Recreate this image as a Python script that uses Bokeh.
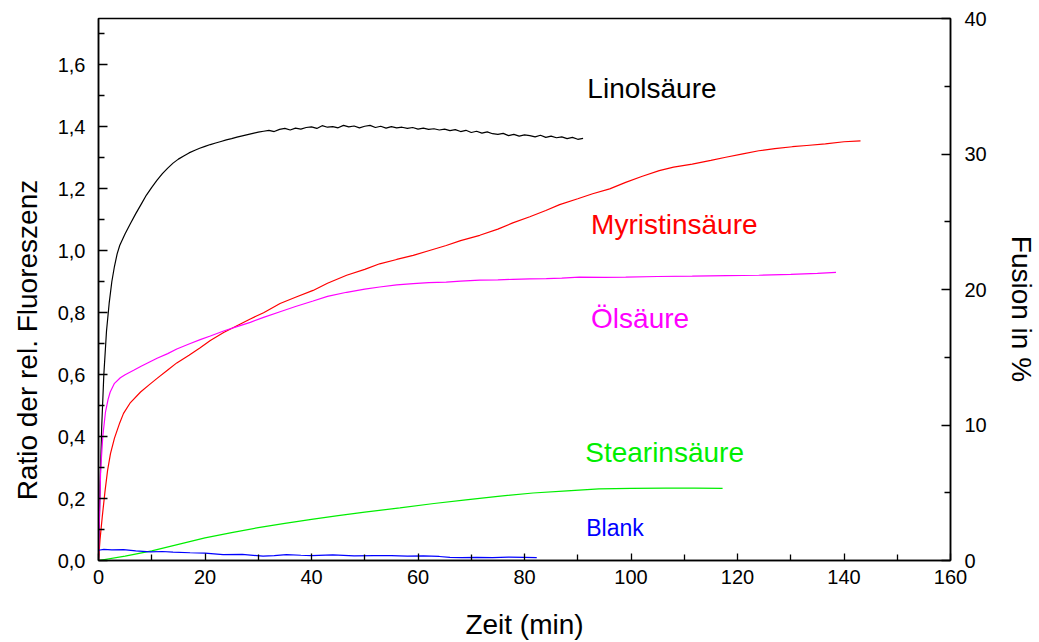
from bokeh.plotting import figure
from bokeh.models import (ColumnDataSource, LinearAxis, Range1d, FixedTicker,
                          CustomJSTickFormatter)
from bokeh.core.properties import value
from bokeh.embed import file_html
from bokeh.resources import INLINE

# ---------------- data ----------------
lin_x = [0, 0.3, 0.6, 1.0, 1.5, 2.0, 2.5, 3.0, 3.5, 4, 5, 6, 7, 8, 9, 10, 11, 12, 13, 14,
         15, 16, 17, 18, 19, 20, 21, 22, 23, 24, 25, 26, 27, 28, 29, 30, 31, 32, 33, 34,
         35, 36, 37, 38, 39, 40, 41, 42, 43, 44, 45, 46, 47, 48, 49, 50, 51, 52, 53, 54,
         55, 56, 57, 58, 59, 60, 61, 62, 63, 64, 65, 66, 67, 68, 69, 70, 71, 72, 73, 74,
         75, 76, 77, 78, 79, 80, 81, 82, 83, 84, 85, 86, 87, 88, 89, 90, 91]
lin_y = [0, 0.24, 0.43, 0.60, 0.74, 0.83, 0.90, 0.95, 0.99, 1.018, 1.055, 1.088, 1.12, 1.15, 1.18, 1.205, 1.228, 1.249, 1.267, 1.283,
         1.296, 1.306, 1.316, 1.324, 1.331, 1.337, 1.343, 1.348, 1.353, 1.358, 1.362, 1.367, 1.371, 1.375, 1.379, 1.383, 1.386, 1.389, 1.385, 1.392,
         1.395, 1.390, 1.396, 1.393, 1.398, 1.40, 1.395, 1.404, 1.399, 1.401, 1.397, 1.405, 1.400, 1.403, 1.397, 1.402, 1.405, 1.398, 1.402, 1.396,
         1.401, 1.397, 1.399, 1.395, 1.398, 1.393, 1.396, 1.392, 1.394, 1.390, 1.393, 1.388, 1.391, 1.385, 1.389, 1.382, 1.386, 1.380, 1.384, 1.378,
         1.376, 1.379, 1.372, 1.376, 1.370, 1.374, 1.372, 1.368, 1.373, 1.366, 1.370, 1.365, 1.368, 1.362, 1.366, 1.360, 1.363]

myr_x = [0, 0.3, 0.7, 1.2, 1.7, 2.25, 3, 4, 4.7, 6, 7.9, 9.5, 11, 13, 14.7, 17, 19.1, 21, 23.5, 26,
         28.5, 31, 34.1, 37, 40.3, 43, 46.6, 50, 52.8, 56, 59.1, 62, 65.3, 68, 71.6, 75, 77.8, 81, 84, 86.6,
         90, 92.8, 96, 99, 102, 105.3, 108, 111.5, 115, 117.8, 121, 124, 127, 130.3, 133, 136.5, 140, 143.1]
myr_y = [0, 0.07, 0.14, 0.22, 0.29, 0.345, 0.395, 0.445, 0.475, 0.51, 0.544, 0.567, 0.588, 0.615, 0.638, 0.663, 0.687, 0.71, 0.736, 0.758,
         0.78, 0.80, 0.83, 0.85, 0.872, 0.895, 0.921, 0.94, 0.958, 0.972, 0.985, 1.00, 1.017, 1.033, 1.05, 1.07, 1.09, 1.11, 1.13, 1.149,
         1.168, 1.184, 1.20, 1.221, 1.24, 1.259, 1.27, 1.28, 1.292, 1.302, 1.313, 1.323, 1.33, 1.336, 1.34, 1.345, 1.352, 1.355]

ole_x = [0, 0.2, 0.4, 0.8, 1.3, 1.8, 2.2, 3, 4.1, 5, 6.6, 8, 9.5, 11, 13, 14.7, 17, 19.1, 21, 23.5,
         26, 28.5, 31, 34.1, 37, 40.3, 43, 46.6, 50, 52.8, 56, 59.1, 62, 65.3, 68, 71.6, 75, 77.8, 81, 84.1,
         87, 90.3, 95, 99, 105, 111.5, 118, 124, 130, 135, 138.5]
ole_y = [0, 0.15, 0.29, 0.40, 0.478, 0.52, 0.544, 0.572, 0.59, 0.60, 0.614, 0.627, 0.64, 0.653, 0.668, 0.683, 0.699, 0.713, 0.725, 0.741,
         0.755, 0.769, 0.785, 0.803, 0.82, 0.838, 0.853, 0.866, 0.876, 0.883, 0.89, 0.894, 0.897, 0.899, 0.902, 0.905, 0.906, 0.908, 0.909, 0.91,
         0.912, 0.915, 0.914, 0.915, 0.917, 0.918, 0.92, 0.921, 0.924, 0.927, 0.93]

ste_x = [0, 5, 10, 15, 20, 25, 30, 35, 40, 45, 50, 56.6, 63, 69, 75, 81.6, 88, 94, 100, 106.5, 112, 117.2]
ste_y = [0, 0.014, 0.031, 0.052, 0.073, 0.09, 0.106, 0.12, 0.133, 0.145, 0.156, 0.17, 0.184, 0.196, 0.207, 0.218, 0.225, 0.231, 0.233, 0.234, 0.234, 0.233]

bla_x = [0, 1, 2.5, 4.7, 7, 9.7, 12, 14, 17.2, 20, 23.4, 27, 30.9, 33, 35.3, 38, 40, 44, 48, 51.7,
         55, 58, 61, 64, 66, 68.2, 71, 74, 77, 80, 82.3]
bla_y = [0.033, 0.036, 0.034, 0.035, 0.031, 0.028, 0.029, 0.027, 0.025, 0.024, 0.019, 0.02, 0.014, 0.016, 0.019, 0.017, 0.016, 0.018, 0.015, 0.016,
         0.016, 0.014, 0.015, 0.013, 0.010, 0.009, 0.010, 0.009, 0.011, 0.010, 0.009]

label_text = ["Linolsäure", "Myristinsäure", "Ölsäure", "Stearinsäure", "Blank"]
label_x = [91.8, 92.5, 92.5, 91.4, 91.6]
label_y = [1.523, 1.085, 0.782, 0.35, 0.106]
label_color = ["black", "#ff0000", "#ff00ff", "#00ee00", "#0000ff"]
label_size = ["28px", "28px", "28px", "28px", "23px"]

x_ticks = [0, 20, 40, 60, 80, 100, 120, 140, 160]
x_minor = [10, 30, 50, 70, 90, 110, 130, 150]
y_ticks = [0.0, 0.2, 0.4, 0.6, 0.8, 1.0, 1.2, 1.4, 1.6]
y_minor = [0.1, 0.3, 0.5, 0.7, 0.9, 1.1, 1.3, 1.5, 1.7]
r_ticks = [0, 10, 20, 30, 40]
r_minor = [5, 15, 25, 35]

x_title = "Zeit (min)"
y_title = "Ratio der rel. Fluoreszenz"
r_title = "Fusion in %"

FONT = "Liberation Sans"
NB = "\u00a0"

p = figure(width=1039, height=642, output_backend="svg", toolbar_location=None,
           x_range=Range1d(0, 160), y_range=Range1d(0, 1.75),
           min_border_left=98, min_border_right=87, min_border_top=18, min_border_bottom=81)
p.background_fill_color = "white"
p.border_fill_color = "white"
p.grid.visible = False
p.outline_line_color = "black"
p.outline_line_width = 1.5

p.extra_y_ranges = {"fusion": Range1d(0, 40)}

def style_axis(ax, major_in, minor_in):
    ax.axis_line_color = "black"
    ax.axis_line_width = 1.5
    ax.major_tick_line_color = "black"
    ax.minor_tick_line_color = "black"
    ax.major_tick_line_width = 1.3
    ax.minor_tick_line_width = 1.3
    ax.major_tick_in = major_in
    ax.major_tick_out = 0
    ax.minor_tick_in = minor_in
    ax.minor_tick_out = 0
    ax.major_label_text_font = FONT
    ax.major_label_text_font_size = "20px"
    ax.major_label_text_color = "black"
    ax.axis_label_text_font = FONT
    ax.axis_label_text_font_size = "28px"
    ax.axis_label_text_font_style = "normal"
    ax.axis_label_text_color = "black"

xa = p.xaxis[0]
xa.ticker = FixedTicker(ticks=x_ticks, minor_ticks=x_minor)
xa.axis_label = x_title
style_axis(xa, 7, 6)
xa.major_label_standoff = 9
xa.axis_label_standoff = 22

ya = p.yaxis[0]
ya.ticker = FixedTicker(ticks=y_ticks, minor_ticks=y_minor)
ya.formatter = CustomJSTickFormatter(code="return tick.toFixed(1).replace('.', ',');")
# trailing no-break spaces move the title down, as in the reference
ya.axis_label = y_title + NB * 13
style_axis(ya, 9, 6)
ya.major_label_standoff = 13
ya.axis_label_standoff = 12

ra = LinearAxis(y_range_name="fusion", axis_label=NB * 5 + r_title)
ra.ticker = FixedTicker(ticks=r_ticks, minor_ticks=r_minor)
style_axis(ra, 9, 6)
ra.major_label_standoff = 14
ra.axis_label_standoff = 16
p.add_layout(ra, "right")

p.line(lin_x, lin_y, line_color="black", line_width=1.2)
p.line(myr_x, myr_y, line_color="#ff0000", line_width=1.2)
p.line(ole_x, ole_y, line_color="#ff00ff", line_width=1.2)
p.line(ste_x, ste_y, line_color="#00ee00", line_width=1.2)
p.line(bla_x, bla_y, line_color="#0000ff", line_width=1.2)

src = ColumnDataSource(dict(x=label_x, y=label_y, t=label_text, c=label_color, s=label_size))
p.text(x="x", y="y", text="t", text_color="c", text_font_size="s", source=src,
       text_font=value(FONT), text_align="left", text_baseline="middle")

open("out.html", "w").write(file_html(p, INLINE))
